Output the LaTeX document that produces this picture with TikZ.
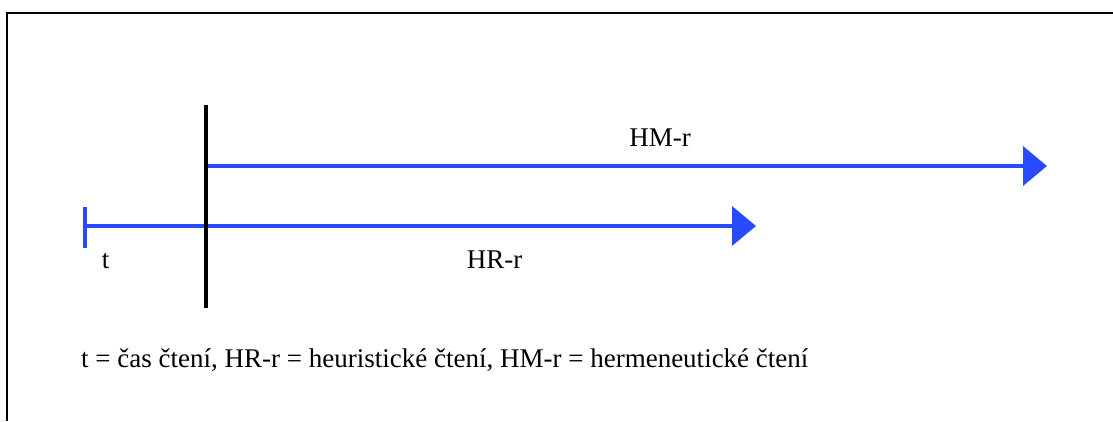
\documentclass[tikz,border=0pt]{standalone}
\usepackage{fontspec}
\setmainfont{Liberation Serif}
\usetikzlibrary{arrows.meta}
\definecolor{lineblue}{RGB}{41,75,255}
\begin{document}
\begin{tikzpicture}[x=1pt,y=1pt,
  frameline/.style={line width=2.2pt,black},
  blueline/.style={line width=4pt,lineblue},
  bluearrow/.style={blueline,-{Triangle[length=24pt,width=39pt]}},
  divider/.style={line width=4.5pt,black},
  lbl/.style={inner sep=0pt,anchor=base,font=\fontsize{27}{32}\selectfont}]
\useasboundingbox (0,0) rectangle (1113,421);
% frame
\coordinate (fbl) at (7,0);
\coordinate (ftl) at (7,408);
\coordinate (ftr) at (1113,408);
\draw[frameline] (fbl) -- (ftl) -- (ftr);
% HR line
\coordinate (tickbot) at (85,173);
\coordinate (ticktop) at (85,214);
\coordinate (hrstart) at (85,195);
\coordinate (hrend) at (756,195);
\draw[blueline] (tickbot) -- (ticktop);
\draw[bluearrow] (hrstart) -- (hrend);
% HM line
\coordinate (hmstart) at (206,255);
\coordinate (hmend) at (1047,255);
\draw[bluearrow] (hmstart) -- (hmend);
% divider
\coordinate (divtop) at (206,316);
\coordinate (divbot) at (206,113);
\draw[divider] (divbot) -- (divtop);
% labels
\node[lbl] (hm) at (660,274) {HM-r};
\node[lbl] (hr) at (494.5,153) {HR-r};
\node[lbl] (t) at (105.5,153) {t};
\node[lbl,anchor=base west] (cap) at (81,54) {t = čas čtení, HR-r = heuristické čtení, HM-r = hermeneutické čtení};
\end{tikzpicture}
\end{document}
